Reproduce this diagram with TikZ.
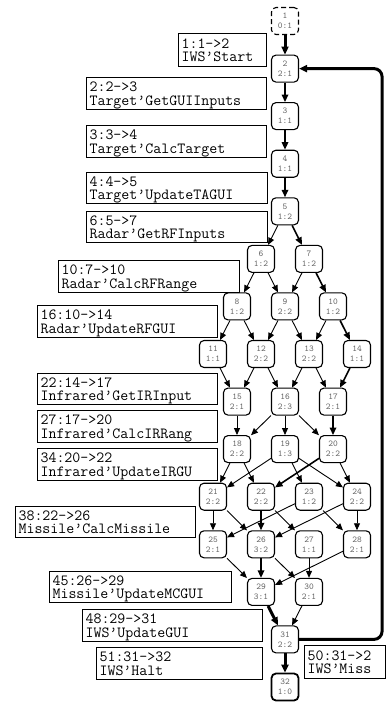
\documentclass[tikz,border=0pt]{standalone}
\usepackage{fontspec}
\usetikzlibrary{arrows.meta}
\newcommand\labfont{\ttfamily\fontsize{15.5}{13.5}\selectfont}
\newcommand\vtxfont{\ttfamily\fontsize{9}{10}\selectfont}
\newcommand\twolines[2]{\rule{0pt}{13.5pt}#1\\#2\rule[-4pt]{0pt}{4pt}}
\begin{document}
\begin{tikzpicture}[x=1pt,y=-1pt,
  vtx/.style={draw, line width=1.1pt, rounded corners=4.5pt,
    minimum width=27pt, minimum height=27pt, inner sep=0pt,
    align=center, font=\vtxfont, text=black!60},
  lab/.style={draw, line width=1.1pt, rectangle, anchor=north west,
    inner xsep=3pt, inner ysep=0pt, align=left, font=\labfont},
  arr/.style={-{Triangle[length=7pt,width=6pt]}, line width=0.9pt},
  hot/.style={-{Triangle[length=7.5pt,width=6.5pt]}, line width=1.6pt},
  hotter/.style={-{Triangle[length=8pt,width=7pt]}, line width=3pt},
]
\useasboundingbox (0,0) rectangle (386,704);

% state nodes: number over in-degree:out-degree
\node[vtx, dash pattern=on 5pt off 3pt] (n1) at (285,21.0) {1\\0:1};
\node[vtx] (n2)  at (285,68.6)  {2\\2:1};
\node[vtx] (n3)  at (285,116.1) {3\\1:1};
\node[vtx] (n4)  at (285,163.7) {4\\1:1};
\node[vtx] (n5)  at (285,211.3) {5\\1:2};
\node[vtx] (n6)  at (261,258.9) {6\\1:2};
\node[vtx] (n7)  at (309,258.9) {7\\1:2};
\node[vtx] (n8)  at (237,306.4) {8\\1:2};
\node[vtx] (n9)  at (285,306.4) {9\\2:2};
\node[vtx] (n10) at (333,306.4) {10\\1:2};
\node[vtx] (n11) at (213,354.0) {11\\1:1};
\node[vtx] (n12) at (261,354.0) {12\\2:2};
\node[vtx] (n13) at (309,354.0) {13\\2:2};
\node[vtx] (n14) at (357,354.0) {14\\1:1};
\node[vtx] (n15) at (237,401.6) {15\\2:1};
\node[vtx] (n16) at (285,401.6) {16\\2:3};
\node[vtx] (n17) at (333,401.6) {17\\2:1};
\node[vtx] (n18) at (237,449.1) {18\\2:2};
\node[vtx] (n19) at (285,449.1) {19\\1:3};
\node[vtx] (n20) at (333,449.1) {20\\2:2};
\node[vtx] (n21) at (213,496.7) {21\\2:2};
\node[vtx] (n22) at (261,496.7) {22\\2:2};
\node[vtx] (n23) at (309,496.7) {23\\1:2};
\node[vtx] (n24) at (357,496.7) {24\\2:2};
\node[vtx] (n25) at (213,544.3) {25\\2:1};
\node[vtx] (n26) at (261,544.3) {26\\3:2};
\node[vtx] (n27) at (309,544.3) {27\\1:1};
\node[vtx] (n28) at (357,544.3) {28\\2:1};
\node[vtx] (n29) at (261,591.9) {29\\3:1};
\node[vtx] (n30) at (309,591.9) {30\\2:1};
\node[vtx] (n31) at (285,639.4) {31\\2:2};
\node[vtx, line width=1.8pt] (n32) at (285,687.0) {32\\1:0};

% transitions
\draw[hotter] (n1) -- (n2);
\draw[hot] (n2) -- (n3);
\draw[hot] (n3) -- (n4);
\draw[hot] (n4) -- (n5);
\draw[arr] (n5) -- (n6);
\draw[hot] (n5) -- (n7);
\draw[arr] (n6) -- (n8);
\draw[arr] (n6) -- (n9);
\draw[arr] (n7) -- (n9);
\draw[hot] (n7) -- (n10);
\draw[arr] (n8) -- (n11);
\draw[arr] (n8) -- (n12);
\draw[arr] (n9) -- (n12);
\draw[arr] (n9) -- (n13);
\draw[arr] (n10) -- (n13);
\draw[hot] (n10) -- (n14);
\draw[arr] (n11) -- (n15);
\draw[arr] (n12) -- (n15);
\draw[arr] (n12) -- (n16);
\draw[arr] (n13) -- (n16);
\draw[arr] (n13) -- (n17);
\draw[hot] (n14) -- (n17);
\draw[arr] (n15) -- (n18);
\draw[arr] (n16) -- (n18);
\draw[arr] (n16) -- (n19);
\draw[arr] (n16) -- (n20);
\draw[hot] (n17) -- (n20);
\draw[arr] (n18) -- (n21);
\draw[arr] (n18) -- (n22);
\draw[arr] (n19) -- (n21);
\draw[arr] (n19) -- (n23);
\draw[arr] (n19) -- (n24);
\draw[hot] (n20) -- (n22);
\draw[arr] (n20) -- (n24);
\draw[arr] (n21) -- (n25);
\draw[arr] (n21) -- (n26);
\draw[hot] (n22) -- (n26);
\draw[arr] (n22) -- (n27);
\draw[arr] (n23) -- (n25);
\draw[arr] (n23) -- (n28);
\draw[arr] (n24) -- (n26);
\draw[arr] (n24) -- (n28);
\draw[arr] (n25) -- (n29);
\draw[hot] (n26) -- (n29);
\draw[arr] (n26) -- (n30);
\draw[arr] (n27) -- (n30);
\draw[arr] (n28) -- (n29);
\draw[hotter] (n29) -- (n31);
\draw[arr] (n30) -- (n31);
\draw[hotter] (n31) -- (n32);
\draw[hotter, rounded corners=8pt] (n31.east) -- ++(83,0) |- (n2.east);

% transition labels
\node[lab, minimum width=88pt,  minimum height=33pt, text width=82pt]  (l1)  at (178,33)  {\twolines{1:1->2}{IWS’Start}};
\node[lab, minimum width=180pt, minimum height=32pt, text width=174pt] (l2)  at (86,77)   {\twolines{2:2->3}{Target’GetGUIInputs}};
\node[lab, minimum width=180pt, minimum height=32pt, text width=174pt] (l3)  at (86,125)  {\twolines{3:3->4}{Target’CalcTarget}};
\node[lab, minimum width=181pt, minimum height=31pt, text width=175pt] (l4)  at (86,172)  {\twolines{4:4->5}{Target’UpdateTAGUI}};
\node[lab, minimum width=181pt, minimum height=31pt, text width=175pt] (l6)  at (86,211)  {\twolines{6:5->7}{Radar’GetRFInputs}};
\node[lab, minimum width=181pt, minimum height=32pt, text width=175pt] (l10) at (58,260)  {\twolines{10:7->10}{Radar’CalcRFRange}};
\node[lab, minimum width=180pt, minimum height=32pt, text width=174pt] (l16) at (37,305)  {\twolines{16:10->14}{Radar’UpdateRFGUI}};
\node[lab, minimum width=180pt, minimum height=31pt, text width=174pt] (l22) at (37,373)  {\twolines{22:14->17}{Infrared’GetIRInput}};
\node[lab, minimum width=180pt, minimum height=32pt, text width=174pt] (l27) at (37,410)  {\twolines{27:17->20}{Infrared’CalcIRRang}};
\node[lab, minimum width=180pt, minimum height=32pt, text width=174pt] (l34) at (37,448)  {\twolines{34:20->22}{Infrared’UpdateIRGU}};
\node[lab, minimum width=180pt, minimum height=31pt, text width=174pt] (l38) at (15,506)  {\twolines{38:22->26}{Missile’CalcMissile}};
\node[lab, minimum width=182pt, minimum height=31pt, text width=176pt] (l45) at (49,571)  {\twolines{45:26->29}{Missile’UpdateMCGUI}};
\node[lab, minimum width=180pt, minimum height=32pt, text width=174pt] (l48) at (82,609)  {\twolines{48:29->31}{IWS’UpdateGUI}};
\node[lab, minimum width=166pt, minimum height=32pt, text width=160pt] (l51) at (96,647)  {\twolines{51:31->32}{IWS’Halt}};
\node[lab, minimum width=81pt,  minimum height=33pt, text width=75pt]  (l50) at (304,645) {\twolines{50:31->2}{IWS’Miss}};
\end{tikzpicture}
\end{document}
